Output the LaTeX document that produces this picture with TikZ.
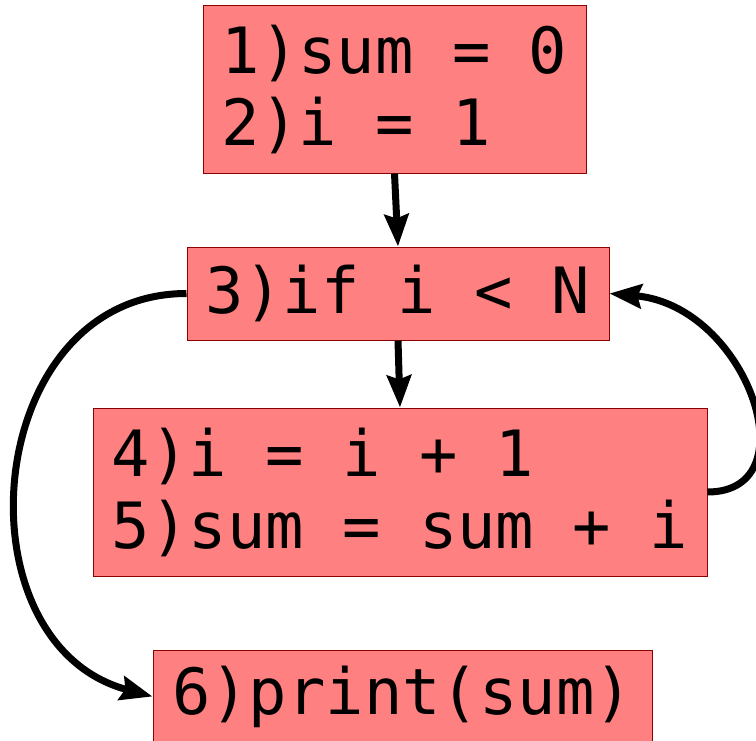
\documentclass[tikz,border=0pt]{standalone}
\usepackage{fontspec}
\newfontfamily\codefont{DejaVu Sans Mono}
\usetikzlibrary{arrows.meta}
\definecolor{cStmt}{HTML}{FF8080}
\definecolor{cStmtEdge}{HTML}{8B0000}
\tikzset{
  stmt/.style={draw=cStmtEdge, line width=0.5pt, fill=cStmt, align=left,
    inner sep=0pt, font=\codefont\fontsize{31.9}{36}\selectfont},
  tall/.style={stmt, minimum height=84pt},
  flat/.style={stmt, minimum height=46.5pt},
  flow/.style={-{Stealth[length=16pt, width=12pt, inset=2pt]}, line width=3.5pt},
}

\begin{document}
\begin{tikzpicture}[x=1pt, y=1pt]
    \useasboundingbox (0,0) rectangle (378,-370);
    % --- statements, explicit coordinates ---
    \node[tall, minimum width=191.5pt] (init) at (197.25,-44.5)   {1)sum = 0\\2)i = 1};
    \node[flat, minimum width=211pt]   (test) at (199,-146.75)    {3)if i < N};
    \node[tall, minimum width=307pt]   (body) at (200,-246)       {4)i = i + 1\\5)sum = sum + i};
    \node[flat, minimum width=249.5pt] (done) at (201.25,-348.25) {6)print(sum)};
    % --- straight flow ---
    \draw[flow] (init.south) -- (test.north);
    \draw[flow] (test.south) -- (body.north);
    % loop back and exit, bent round the sides
    \draw[flow] (body.east) to[out=0, in=-5, out looseness=1.2, in looseness=1.6] (test.east);
    \draw[flow] (test.west) to[out=180, in=165, looseness=1.3] (done.west);
\end{tikzpicture}
\end{document}
